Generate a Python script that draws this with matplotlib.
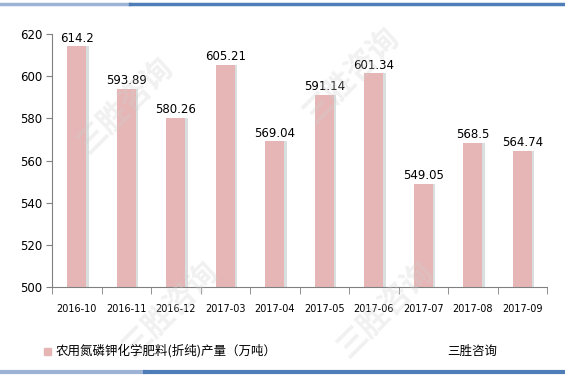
import matplotlib
matplotlib.use("Agg")
import matplotlib.pyplot as plt
from matplotlib.patches import Rectangle
from matplotlib.lines import Line2D

plt.rcParams['font.family'] = ['DejaVu Sans', 'Noto Sans CJK SC']

months = ["2016-10", "2016-11", "2016-12", "2017-03", "2017-04",
          "2017-05", "2017-06", "2017-07", "2017-08", "2017-09"]
output = [614.2, 593.89, 580.26, 605.21, 569.04,
          591.14, 601.34, 549.05, 568.5, 564.74]
value_labels = ["614.2", "593.89", "580.26", "605.21", "569.04",
                "591.14", "601.34", "549.05", "568.5", "564.74"]
y_ticks = [500, 520, 540, 560, 580, 600, 620]
series_name = "农用氮磷钾化学肥料(折纯)产量（万吨）"
brand = "三胜咨询"

W, H = 565, 377
fig = plt.figure(figsize=(W / 100, H / 100), dpi=100)
ax = fig.add_axes([52 / W, 1 - 287 / H, (547 - 52) / W, (287 - 34) / H])

x = list(range(len(months)))
bar_w = 0.38
bar_color = "#E6B6B6"

# thin shadow strip to the right of each bar
ax.bar([i + 0.05 for i in x], [v - 500 for v in output], width=bar_w,
       bottom=500, color="#D9DEDE", zorder=1)
ax.bar(x, [v - 500 for v in output], width=bar_w, bottom=500,
       color=bar_color, zorder=2)

for i, (v, lab) in enumerate(zip(output, value_labels)):
    ax.text(i, v + 0.8, lab, ha="center", va="bottom", fontsize=8.5,
            color="black", zorder=3)

ax.set_xlim(-0.5, len(months) - 0.5)
ax.set_ylim(500, 620)
ax.set_yticks(y_ticks)
ax.set_yticklabels([str(t) for t in y_ticks], fontsize=8.5)
ax.set_xticks(x)
ax.set_xticklabels(months, fontsize=7)
ax.tick_params(axis="x", length=0, pad=12)
ax.tick_params(axis="y", length=4, color="#808080", pad=3)

# boundary tick marks between categories
ax.set_xticks([i - 0.5 for i in range(len(months) + 1)], minor=True)
ax.tick_params(axis="x", which="minor", length=5, color="#808080")

for s in ["top", "right"]:
    ax.spines[s].set_visible(False)
ax.spines["left"].set_color("#808080")
ax.spines["bottom"].set_color("#808080")

# faint watermark
for (wx, wy) in [(0.30, 0.18), (0.68, 0.18), (0.22, 0.72), (0.62, 0.80)]:
    fig.text(wx, wy, brand, fontsize=22, color="#D0D0D0", alpha=0.3,
             rotation=45, ha="center", va="center",
             family=["Noto Sans CJK SC"], fontweight="bold", zorder=0)

# legend entry and brand text
fig.patches.append(Rectangle((44 / W, 1 - 355 / H), 7 / W, 7 / H,
                             transform=fig.transFigure, color=bar_color))
fig.text(56 / W, 1 - 351 / H, series_name, fontsize=9, va="center",
         family=["Noto Sans CJK SC", "DejaVu Sans"])
fig.text(447 / W, 1 - 351 / H, brand, fontsize=9, va="center",
         family=["Noto Sans CJK SC"])

# frame lines top and bottom
fig.lines.append(Line2D([0, 130 / W], [1 - 4 / H, 1 - 4 / H],
                        transform=fig.transFigure, color="#9DB3D6", lw=2.5))
fig.lines.append(Line2D([130 / W, 1], [1 - 4 / H, 1 - 4 / H],
                        transform=fig.transFigure, color="#4F7DB8", lw=2.5))
fig.lines.append(Line2D([0, 145 / W], [1 - 372 / H, 1 - 372 / H],
                        transform=fig.transFigure, color="#9DB3D6", lw=3))
fig.lines.append(Line2D([145 / W, 1], [1 - 372 / H, 1 - 372 / H],
                        transform=fig.transFigure, color="#4F7DB8", lw=3))

fig.savefig("out.png", dpi=100)
